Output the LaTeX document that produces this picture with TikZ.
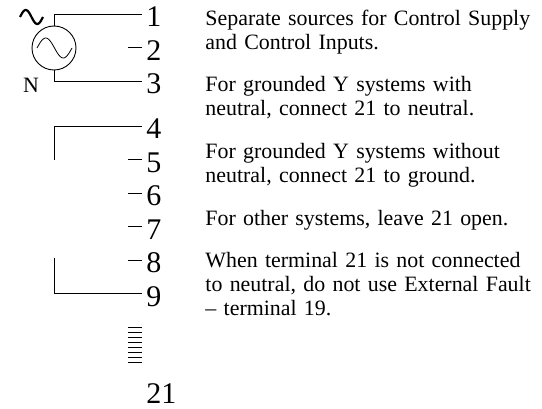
\documentclass[tikz,border=0pt]{standalone}
\usepackage{fontspec}
\setmainfont{Liberation Serif}
\usetikzlibrary{positioning}

\begin{document}
\begin{tikzpicture}[x=1pt, y=-1pt, line width=0.9pt,
    term/.style={anchor=west, inner xsep=4pt, inner ysep=0pt, font=\fontsize{30}{30}\selectfont},
    note/.style={anchor=north west, inner sep=0pt, text width=335pt, align=left, font=\fontsize{21.9}{23.8}\selectfont}]
    \useasboundingbox (0,0) rectangle (542,409);

    % supply source
    \node[circle, draw, minimum size=44pt, inner sep=0pt] (src) at (54,48) {};
    \draw[line width=0.8pt] plot[domain=0:360, samples=40, smooth] ({37+\x/360*35}, {48-10*sin(\x)});
    \draw[line width=2.2pt] plot[domain=0:360, samples=40, smooth] ({20+\x/360*23}, {17-7*sin(\x)});
    \node[inner sep=0pt, font=\fontsize{21.9}{21.9}\selectfont] (neu) at (31,85) {N};

    % terminals
    \node[term] (t1) at (142,17) {1};
    \node[term] (t2) at (142,50.5) {2};
    \node[term] (t3) at (142,84) {3};
    \node[term] (t4) at (142,129) {4};
    \node[term] (t5) at (142,162.5) {5};
    \node[term] (t6) at (142,196) {6};
    \node[term] (t7) at (142,229.5) {7};
    \node[term] (t8) at (142,263) {8};
    \node[term] (t9) at (142,296.5) {9};
    \node[term] (t21) at (142,394) {21};

    \coordinate (c5) at (54,160);
    \coordinate (c8) at (54,258);

    \draw (src.north) |- ([yshift=3pt]t1.west);
    \draw (src.south) |- ([yshift=3pt]t3.west);
    \draw ([yshift=3pt]t2.west) -- +(-14,0);
    \draw (c5) |- ([yshift=3pt]t4.west);
    \draw ([yshift=3pt]t5.west) -- +(-14,0);
    \draw ([yshift=3pt]t6.west) -- +(-14,0);
    \draw ([yshift=3pt]t7.west) -- +(-14,0);
    \draw ([yshift=3pt]t8.west) -- +(-14,0);
    \draw (c8) |- ([yshift=3pt]t9.west);

    % terminals 10 to 20
    \foreach \y in {327,332,...,362}
        \draw (128,\y) -- (142,\y);

    % notes
    \node[note] (n1) at (205,8.3) {\strut Separate sources for Control Supply\\and Control Inputs.};
    \node[note] (n2) at (205,74.3) {\strut For grounded Y systems with\\neutral, connect 21 to neutral.};
    \node[note] (n3) at (205,141.3) {\strut For grounded Y systems without\\neutral, connect 21 to ground.};
    \node[note] (n4) at (205,208.3) {\strut For other systems, leave 21 open.};
    \node[note] (n5) at (205,250.3) {\strut When terminal 21 is not connected\\to neutral, do not use External Fault\\– terminal 19.};
\end{tikzpicture}
\end{document}
